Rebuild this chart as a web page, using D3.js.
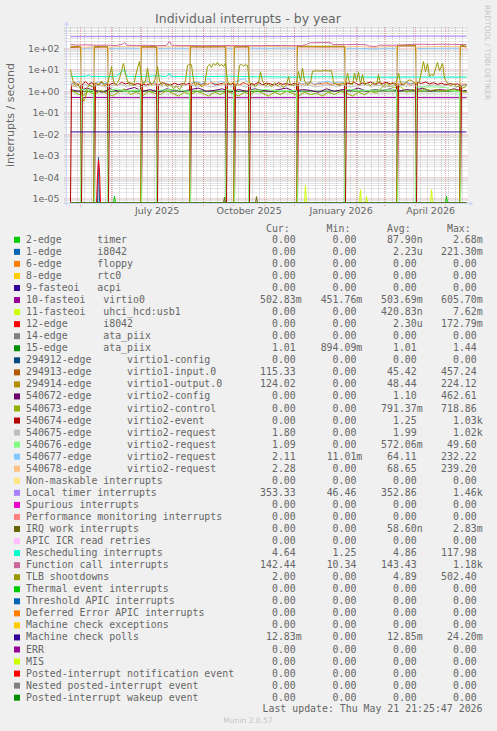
<!DOCTYPE html>
<html><head><meta charset="utf-8">
<script src="https://cdn.jsdelivr.net/npm/d3@7/dist/d3.min.js"></script>
<style>
html,body{margin:0;padding:0;background:#f0f0f0;}
svg{display:block;}
text{white-space:pre;}
</style></head><body>
<svg id="chart" width="497" height="731"></svg>
<script>
// ---------- DATA (day index from graph start, value per second) ----------
const zeroSeries = [[4,0],[400,0]];
const edge2Timer = [[4,0],[47,0],[48,1.3e-5],[49,0],[379,0],[380,1.3e-5],[381,0],[400,0]];
const edge1I8042 = [[4,0],[31,0],[32,8.5e-4],[33,0],[400,0]];
const fasteoi10Virtio0 = [[4,0.51],[100,0.50],[200,0.50],[300,0.51],[400,0.50]];
const fasteoi11Usb = [[4,0],[238,0],[239,4.1e-5],[240,0],[293,0],[294,2.6e-5],[295,0],[299,0],[300,1.27e-5],[301,0],[364,0],[365,2.6e-5],[366,0],[400,0]];
const edge12I8042 = [[4,0],[30,0],[31,1e-4],[32,6.5e-4],[33,2e-4],[34,0],[400,0]];
const edge15Ata = [[4,1.0],[100,1.02],[200,1.0],[300,1.03],[400,1.01]];
const virtio1Input = [[4,110],[14,114],[15,0],[27,0],[28,112],[41,115],[42,0],[74,0],[75,114],[90,113],[91,0],[123,0],[124,115],[140,114],[159,116],[160,0],[167,0],[168,114],[182,115],[183,0],[230,0],[231,117],[255,115],[278,116],[279,0],[330,0],[331,128],[349,127],[350,0],[393,0],[394,128],[400,115]];
const virtio1Output = [[4,118],[14,123],[15,0],[27,0],[28,121],[41,124],[42,0],[74,0],[75,123],[90,122],[91,0],[123,0],[124,124],[140,123],[159,125],[160,0],[167,0],[168,123],[182,124],[183,0],[230,0],[231,126],[255,124],[278,125],[279,0],[330,0],[331,138],[349,136],[350,0],[393,0],[394,140],[400,124]];
const virtio2Config = [[4,1.2],[12,1.0],[20,1.4],[28,1.1],[36,0.9],[44,1.3],[52,1.0],[60,1.2],[68,1.5],[76,1.0],[84,1.2],[92,0.9],[100,1.3],[108,1.1],[116,1.0],[124,1.2],[132,1.4],[140,1.0],[148,1.1],[156,1.3],[164,0.9],[172,1.2],[180,1.0],[188,1.3],[196,1.1],[204,1.0],[212,1.2],[220,1.4],[228,1.0],[236,1.2],[244,1.1],[252,0.9],[260,1.3],[268,1.0],[276,1.2],[284,1.1],[292,1.4],[300,1.0],[308,1.2],[316,1.1],[324,1.3],[332,1.0],[340,1.2],[348,1.1],[356,1.4],[364,1.0],[372,1.2],[380,1.1],[388,1.3],[396,1.0],[400,1.1]];
const virtio2Control = [[4,1.2],[10,0.8],[16,0.6],[22,1.0],[28,0.7],[34,1.1],[40,0.8],[46,0.6],[52,0.9],[58,1.3],[64,0.7],[70,0.9],[76,0.6],[82,1.0],[88,0.8],[94,0.7],[100,1.1],[106,0.8],[112,0.6],[118,0.9],[124,0.7],[130,1.0],[136,0.8],[142,0.6],[148,0.9],[154,0.7],[160,1.0],[166,0.8],[172,0.6],[178,0.9],[184,0.7],[190,1.1],[196,0.8],[202,0.6],[208,0.9],[214,0.7],[220,1.0],[226,0.8],[232,0.6],[238,0.9],[244,0.7],[250,0.8],[256,0.6],[262,0.9],[268,0.7],[274,1.0],[280,0.8],[286,0.6],[292,0.9],[298,0.7],[304,1.0],[310,0.8],[316,1.6],[322,1.8],[328,1.5],[334,1.7],[340,0.9],[346,1.2],[352,1.0],[358,1.3],[364,1.1],[370,1.2],[376,1.0],[382,1.1],[388,1.2],[394,1.0],[400,0.9]];
const virtio2Event = [[4,0],[5,2.2],[8,2.6],[11,2],[14,2.4],[15,0],[16,2.2],[19,2.8],[22,2.1],[25,2.5],[27,2.3],[28,0],[29,2.4],[32,2],[35,2.6],[38,2.2],[41,2.5],[42,0],[43,2.1],[47,2.4],[51,1.9],[55,2.6],[59,2.2],[63,2.5],[67,2],[71,2.3],[74,2.1],[75,0],[76,2.2],[80,1.9],[84,2.4],[88,2.1],[90,2.3],[91,0],[92,2],[96,2.5],[100,2.2],[104,1.9],[108,2.4],[112,2],[116,2.3],[120,2.1],[123,2.4],[124,0],[125,2.2],[129,2.6],[133,2],[137,2.3],[141,2.1],[145,2.5],[149,2],[153,2.2],[157,2.4],[159,2],[160,0],[161,2.3],[164,2.1],[167,2.4],[168,0],[169,2.2],[173,2],[177,2.5],[180,2.2],[182,2],[183,0],[184,2.3],[188,2.1],[192,2.6],[196,2],[200,2.4],[204,2.2],[208,1.9],[212,2.5],[216,2.1],[220,2.3],[224,2],[228,2.4],[230,2.2],[231,0],[232,2.5],[236,2.1],[240,2.3],[244,2.6],[248,2],[252,2.4],[256,2.2],[260,2.5],[264,2],[268,2.3],[272,2.1],[276,2.4],[278,2.2],[279,0],[280,2.5],[284,2.2],[288,2.6],[292,2],[296,2.4],[300,2.3],[304,2.7],[308,2.1],[312,2.5],[316,2.3],[320,2.6],[324,2.2],[328,2.4],[330,2.1],[331,0],[332,2.3],[336,2],[340,2.5],[344,2.2],[348,2.4],[349,2.2],[350,0],[351,2.6],[355,2.3],[359,2.7],[363,2.2],[367,2.5],[371,2.1],[375,2.4],[379,2],[383,2.3],[387,2.1],[391,2.2],[393,2],[394,0],[395,1.8],[398,2],[400,2]];
const virtio2Req75 = [[4,1.8],[11,1.6],[18,2.0],[25,1.7],[32,1.9],[39,1.6],[46,1.8],[53,2.1],[60,1.7],[67,1.9],[74,1.6],[81,1.8],[88,2.0],[95,1.7],[102,1.9],[109,1.6],[116,1.8],[123,2.0],[130,1.7],[137,1.9],[144,1.6],[151,1.8],[158,2.0],[165,1.7],[172,1.9],[179,1.6],[186,1.8],[193,2.0],[200,1.7],[207,1.9],[214,1.6],[221,1.8],[228,2.0],[235,1.7],[242,1.9],[249,1.6],[256,1.8],[263,2.0],[270,1.7],[277,1.9],[284,1.6],[291,1.8],[298,2.0],[305,1.7],[312,1.9],[319,1.6],[326,1.8],[333,2.0],[340,1.7],[347,1.9],[354,1.6],[361,1.8],[368,2.0],[375,1.7],[382,1.9],[389,1.6],[396,1.8],[400,1.8]];
const virtio2Req76 = [[4,0],[14,0],[15,1.2],[27,1.1],[28,0],[41,0],[42,1.1],[50,1.3],[60,1.0],[74,1.2],[75,0],[90,0],[91,1.1],[105,1.2],[123,1.0],[124,0],[159,0],[160,1.2],[167,1.1],[168,0],[182,0],[183,1.1],[200,1.2],[215,1.0],[230,1.1],[231,0],[278,0],[279,1.2],[300,1.1],[330,1.2],[331,0],[349,0],[350,1.6],[365,1.6],[380,1.5],[385,1.0],[393,1.0],[394,0],[400,0]];
const virtio2Req77 = [[4,2.5],[8,2],[12,3],[14,2.2],[15,100],[27,104],[28,2.3],[32,2.8],[36,2.1],[41,2.6],[42,98],[55,102],[74,100],[75,2.4],[80,3.2],[85,2.2],[90,2.7],[91,98],[105,101],[123,100],[124,2.3],[130,2.9],[136,2.2],[140,3.5],[142,4],[146,2.5],[150,2.2],[154,3],[159,2.5],[160,100],[167,101],[168,2.6],[174,3.5],[178,3.8],[182,2.4],[183,102],[200,100],[215,103],[230,100],[231,2.5],[237,2.2],[243,2.8],[249,2.1],[255,2.6],[261,3],[267,2.3],[273,2.7],[278,2.4],[279,100],[295,99],[303,95],[310,92],[313,100],[330,101],[331,2.4],[337,2.8],[343,2.2],[349,2.6],[350,98],[370,100],[393,101],[394,2.3],[400,2.11]];
const virtio2Req78 = [[4,2.2],[8,1.8],[12,2.5],[14,2],[15,110],[27,118],[28,2],[32,2.4],[36,1.8],[41,2.2],[42,112],[50,120],[60,118],[74,120],[75,2.1],[80,2.6],[85,1.9],[90,2.3],[91,115],[105,118],[123,120],[124,2],[130,2.5],[136,1.8],[142,2.2],[148,2.8],[154,2],[159,2.4],[160,118],[167,120],[168,2.2],[174,1.9],[178,2.5],[182,2.1],[183,120],[200,122],[215,118],[230,120],[231,2.3],[237,2],[243,2.6],[249,1.9],[255,2.2],[261,2.5],[267,2],[273,2.4],[278,2.1],[279,118],[295,120],[303,112],[310,105],[313,118],[330,120],[331,2.2],[337,2.5],[343,1.9],[349,2.3],[350,115],[370,120],[393,118],[394,2.2],[400,2.28]];
const localTimer = [[4,345],[30,348],[60,350],[90,346],[120,352],[150,348],[180,350],[210,347],[240,352],[244,366],[270,368],[300,365],[330,362],[360,367],[390,364],[400,362]];
const irqWork = [[4,0],[157,0],[158,1.2e-5],[159,0],[189,0],[190,1.25e-5],[191,0],[400,0]];
const resched = [[4,5],[10,4.8],[20,5],[22,5.8],[24,4.9],[30,4.9],[40,4.7],[50,5],[56,9],[58,10],[60,5],[70,4.8],[80,4.9],[90,5.2],[100,4.8],[103,7],[105,4.8],[120,4.9],[140,4.8],[160,5],[180,4.8],[200,4.7],[220,4.6],[240,4.6],[260,4.7],[280,4.6],[300,4.6],[320,4.5],[340,4.6],[360,4.6],[380,4.5],[400,4.6]];
const funcCall = [[4,150],[10,140],[20,145],[30,138],[40,140],[50,135],[56,155],[58,185],[60,140],[70,135],[80,138],[90,132],[100,135],[103,210],[105,140],[115,132],[125,134],[135,130],[145,133],[155,132],[165,134],[175,131],[185,133],[195,132],[205,135],[215,134],[225,133],[235,132],[240,150],[243,178],[255,185],[265,180],[266,150],[280,148],[290,152],[300,146],[303,125],[310,122],[313,140],[325,138],[335,142],[345,150],[355,155],[365,150],[375,156],[385,152],[395,150],[400,148]];
const tlbShootdowns = [[4,10],[5,6],[7,2.5],[9,1.8],[11,2.2],[13,1.6],[15,0.9],[17,0.35],[19,0.5],[21,1.5],[23,2],[26,1.6],[29,2.4],[32,2],[35,3],[38,1.8],[41,2.2],[43,5],[45,14],[47,3],[49,2],[51,2.5],[53,4],[55,9],[57,20],[59,6],[61,3],[63,2],[65,2.5],[67,1.8],[69,5],[71,12],[73,24],[75,4],[77,2.2],[79,3],[81,12],[83,3],[85,2],[87,2.6],[89,4],[91,14],[93,3],[95,2],[98,2.4],[101,1.6],[104,2.2],[107,1.3],[110,1.8],[113,1.2],[116,2],[119,3],[121,16],[123,18],[125,17],[127,3],[129,1.8],[132,2.5],[135,1.6],[138,2],[141,14],[143,18],[145,13],[147,20],[149,16],[151,22],[153,15],[155,18],[157,14],[159,20],[161,3],[163,2],[166,2.5],[169,1.8],[171,2.2],[173,16],[175,18],[177,15],[179,17],[181,16],[183,2.5],[186,2],[189,1.6],[192,2.4],[194,8],[196,3],[199,1.8],[202,2.2],[205,1.6],[208,2.5],[211,1.8],[214,2.2],[217,1.5],[220,2],[222,4.8],[224,2],[227,1.8],[230,2.6],[232,8.3],[234,3],[236,12],[238,3],[241,2],[244,2.5],[246,8.5],[250,9],[254,8.6],[258,9.2],[262,8.8],[265,9],[267,2.6],[270,2.2],[273,1.8],[276,2.4],[279,2],[281,7],[283,2.5],[286,2],[288,7],[290,3],[292,8],[294,2.2],[296,6],[298,2],[301,2.4],[304,1.8],[307,2.6],[310,2],[312,6],[314,2.2],[317,1.8],[320,2.4],[323,2],[326,2.6],[329,1.8],[332,7],[334,2.5],[337,2],[340,2.8],[343,3.4],[346,3],[348,2.4],[351,2.2],[353,3],[357,24],[359,8],[361,20],[363,5],[365,6],[367,5.5],[371,22],[373,9],[376,20],[378,4],[381,2.4],[384,1.8],[387,2.2],[390,1.6],[393,1.8],[396,1.4],[399,1.6],[400,2.0]];
const mcePolls = [[4,0.0128],[400,0.0128]];

// ---------- LEGEND ----------
const legendNames = ["2-edge      timer","1-edge      i8042","6-edge      floppy","8-edge      rtc0","9-fasteoi   acpi","10-fasteoi   virtio0","11-fasteoi   uhci_hcd:usb1","12-edge      i8042","14-edge      ata_piix","15-edge      ata_piix","294912-edge      virtio1-config","294913-edge      virtio1-input.0","294914-edge      virtio1-output.0","540672-edge      virtio2-config","540673-edge      virtio2-control","540674-edge      virtio2-event","540675-edge      virtio2-request","540676-edge      virtio2-request","540677-edge      virtio2-request","540678-edge      virtio2-request","Non-maskable interrupts","Local timer interrupts","Spurious interrupts","Performance monitoring interrupts","IRQ work interrupts","APIC ICR read retries","Rescheduling interrupts","Function call interrupts","TLB shootdowns","Thermal event interrupts","Threshold APIC interrupts","Deferred Error APIC interrupts","Machine check exceptions","Machine check polls","ERR","MIS","Posted-interrupt notification event","Nested posted-interrupt event","Posted-interrupt wakeup event"];
const legendColors = ["#00CC00","#0066B3","#FF8000","#FFCC00","#330099","#990099","#CCFF00","#FF0000","#808080","#008F00","#00487D","#B35A00","#B38F00","#6B006B","#8FB300","#B30000","#BEBEBE","#80FF80","#80C9FF","#FFC080","#FFE680","#AA80FF","#EE00CC","#FF8080","#666600","#FFBFFF","#00FFCC","#CC6699","#999900","#00CC00","#0066B3","#FF8000","#FFCC00","#330099","#990099","#CCFF00","#FF0000","#808080","#008F00"];
const seriesData = [edge2Timer,edge1I8042,zeroSeries,zeroSeries,zeroSeries,fasteoi10Virtio0,fasteoi11Usb,edge12I8042,zeroSeries,edge15Ata,zeroSeries,virtio1Input,virtio1Output,virtio2Config,virtio2Control,virtio2Event,virtio2Req75,virtio2Req76,virtio2Req77,virtio2Req78,zeroSeries,localTimer,zeroSeries,zeroSeries,irqWork,zeroSeries,resched,funcCall,tlbShootdowns,zeroSeries,zeroSeries,zeroSeries,zeroSeries,mcePolls,zeroSeries,zeroSeries,zeroSeries,zeroSeries,zeroSeries];
const curVals = ["0.00","0.00","0.00","0.00","0.00","502.83m","0.00","0.00","0.00","1.01","0.00","115.33","124.02","0.00","0.00","0.00","1.80","1.09","2.11","2.28","0.00","353.33","0.00","0.00","0.00","0.00","4.64","142.44","2.00","0.00","0.00","0.00","0.00","12.83m","0.00","0.00","0.00","0.00","0.00"];
const minVals = ["0.00","0.00","0.00","0.00","0.00","451.76m","0.00","0.00","0.00","894.09m","0.00","0.00","0.00","0.00","0.00","0.00","0.00","0.00","11.01m","0.00","0.00","46.46","0.00","0.00","0.00","0.00","1.25","10.34","0.00","0.00","0.00","0.00","0.00","0.00","0.00","0.00","0.00","0.00","0.00"];
const avgVals = ["87.90n","2.23u","0.00","0.00","0.00","503.69m","420.83n","2.30u","0.00","1.01","0.00","45.42","48.44","1.10","791.37m","1.25","1.99","572.06m","64.11","68.65","0.00","352.86","0.00","0.00","58.60n","0.00","4.86","143.43","4.89","0.00","0.00","0.00","0.00","12.85m","0.00","0.00","0.00","0.00","0.00"];
const maxVals = ["2.68m","221.30m","0.00","0.00","0.00","605.70m","7.62m","172.79m","0.00","1.44","0.00","457.24","224.12","462.61","718.86","1.03k","1.02k","49.60","232.22","239.20","0.00","1.46k","0.00","0.00","2.83m","0.00","117.98","1.18k","502.40","0.00","0.00","0.00","0.00","24.20m","0.00","0.00","0.00","0.00","0.00"];
const headerLabels = ["Cur:","Min:","Avg:","Max:"];

// ---------- AXES ----------
const yTickValues = [1e-5,1e-4,1e-3,1e-2,1e-1,1,10,100];
const yTickLabels = ["1e-05","1e-04","1e-03","1e-02","1e-01","1e+00","1e+01","1e+02"];
const xLabelMonths = [[2025,6],[2025,9],[2026,0],[2026,3]];
const xLabelTexts = ["July 2025","October 2025","January 2026","April 2026"];

const titleText = "Individual interrupts - by year";
const yAxisLabel = "interrupts / second";
const lastUpdate = "Last update: Thu May 21 21:25:47 2026";
const footerText = "Munin 2.0.57";
const sideText = "RRDTOOL / TOBI OETIKER";

// ---------- DRAW ----------
const DAY = 864e5;
const endTime = new Date(2026,4,21,21,25,47);
const startTime = new Date(+endTime - 400*DAY);
const dayToDate = d => new Date(+startTime + d*DAY);

const L = 66.5, R = 466.5, T = 27, B = 203;
const x = d3.scaleTime().domain([startTime,endTime]).range([L,R]);
const yMin = Math.pow(10,-5.2), yMax = Math.pow(10,2.99);
const y = d3.scaleLog().domain([yMin,yMax]).range([B,T]);

const svg = d3.select("#chart");
svg.append("rect").attr("width",497).attr("height",731).attr("fill","#f0f0f0");
svg.append("rect").attr("x",L).attr("y",T).attr("width",R-L+1).attr("height",B-T).attr("fill","#ffffff");

const gridMinor = "rgba(143,143,143,0.45)";
const gridMajor = "rgba(222,79,79,0.48)";
const snap = v => Math.floor(v)+0.5;

// horizontal minor grid
const gGrid = svg.append("g");
for (let e=-6; e<=2; e++){
  for (let m=2; m<=9; m++){
    const v = m*Math.pow(10,e);
    if (v < yMin || v > yMax) continue;
    const yy = snap(y(v));
    gGrid.append("line").attr("x1",L-2).attr("x2",R+2).attr("y1",yy).attr("y2",yy)
      .attr("stroke",gridMinor).attr("stroke-dasharray","1,1");
  }
}
// vertical minor grid (weeks)
d3.timeMonday.range(startTime,endTime).forEach(d=>{
  const xx = snap(x(d));
  gGrid.append("line").attr("x1",xx).attr("x2",xx).attr("y1",T).attr("y2",B+2)
    .attr("stroke",gridMinor).attr("stroke-dasharray","1,1");
});
// major grids
yTickValues.forEach(v=>{
  const yy = snap(y(v));
  gGrid.append("line").attr("x1",L-2).attr("x2",R+2).attr("y1",yy).attr("y2",yy)
    .attr("stroke",gridMajor).attr("stroke-dasharray","1,1");
});
d3.timeMonth.range(startTime,endTime).forEach(d=>{
  const xx = snap(x(d));
  gGrid.append("line").attr("x1",xx).attr("x2",xx).attr("y1",T).attr("y2",B+3)
    .attr("stroke",gridMajor).attr("stroke-dasharray","1,1");
});

// axis labels
const axisFont = "'DejaVu Sans', sans-serif";
const monoFont = "'DejaVu Sans Mono', monospace";
yTickValues.forEach((v,i)=>{
  svg.append("text").attr("x",59.5).attr("y",y(v)+3.4).attr("text-anchor","end")
    .attr("font-family",axisFont).attr("font-size",9.4).attr("fill","#666").text(yTickLabels[i]);
});
xLabelMonths.forEach((ym,i)=>{
  const a = new Date(ym[0],ym[1],1), b = new Date(ym[0],ym[1]+1,1);
  const xc = (x(a)+x(b))/2;
  svg.append("text").attr("x",xc).attr("y",214.3).attr("text-anchor","middle")
    .attr("font-family",axisFont).attr("font-size",9.5).attr("fill","#666").text(xLabelTexts[i]);
});

// series
const line = d3.line()
  .x(d=>x(dayToDate(d[0])))
  .y(d=>y(Math.max(d[1],yMin)));
const gSeries = svg.append("g");
seriesData.forEach((data,i)=>{
  gSeries.append("path").attr("d",line(data)).attr("fill","none")
    .attr("stroke",legendColors[i]).attr("stroke-width",1);
});

// axes + arrows
const axisCol = "#CFD6F8";
svg.append("line").attr("x1",L-3).attr("x2",R+3).attr("y1",B+0.5).attr("y2",B+0.5).attr("stroke",axisCol);
svg.append("line").attr("x1",L).attr("x2",L).attr("y1",B+3).attr("y2",T-2).attr("stroke",axisCol);
svg.append("path").attr("d",`M${R+3},${B-2} L${R+7},${B+0.5} L${R+3},${B+3} Z`).attr("fill",axisCol);
svg.append("path").attr("d",`M${L-2.5},${T-2} L${L},${T-6} L${L+2.5},${T-2} Z`).attr("fill",axisCol);

// title & labels
svg.append("text").attr("x",248).attr("y",23.3).attr("text-anchor","middle")
  .attr("font-family",axisFont).attr("font-size",12.5).attr("fill","#666").text(titleText);
svg.append("text").attr("transform","translate(14,115) rotate(-90)").attr("text-anchor","middle")
  .attr("font-family",axisFont).attr("font-size",11).attr("fill","#666").text(yAxisLabel);
svg.append("text").attr("transform","translate(485,5) rotate(90)").attr("text-anchor","start")
  .attr("font-family",axisFont).attr("font-size",7.4).attr("fill","#c4c4c4").text(sideText);

// legend
const colEnds = [301.7,362.3,422.7,482.7];
const charW = 5.96;
const rowBase = 242.8, rowStep = 12.05;
headerLabels.forEach((h,i)=>{
  svg.append("text").attr("x",colEnds[i]-2*charW).attr("y",231.5).attr("text-anchor","end")
    .attr("font-family",monoFont).attr("font-size",9.9).attr("fill","#666").text(h);
});
const fmt = s => /[a-z]$/i.test(s) ? s : s+" ";
legendNames.forEach((name,i)=>{
  const by = rowBase + i*rowStep;
  svg.append("rect").attr("x",14).attr("y",by-6).attr("width",6).attr("height",6).attr("fill",legendColors[i]);
  svg.append("text").attr("x",26).attr("y",by).attr("xml:space","preserve")
    .attr("font-family",monoFont).attr("font-size",9.9).attr("fill","#666").text(name);
  [curVals[i],minVals[i],avgVals[i],maxVals[i]].forEach((v,j)=>{
    svg.append("text").attr("x",colEnds[j]).attr("y",by).attr("text-anchor","end").attr("xml:space","preserve")
      .attr("font-family",monoFont).attr("font-size",9.9).attr("fill","#666").text(fmt(v));
  });
});
svg.append("text").attr("x",482.5).attr("y",711.5).attr("text-anchor","end")
  .attr("font-family",monoFont).attr("font-size",9.9).attr("fill","#666").text(lastUpdate);
svg.append("text").attr("x",248).attr("y",723.3).attr("text-anchor","middle")
  .attr("font-family",axisFont).attr("font-size",7.55).attr("fill","#c4c4c4").text(footerText);
</script>
</body></html>
